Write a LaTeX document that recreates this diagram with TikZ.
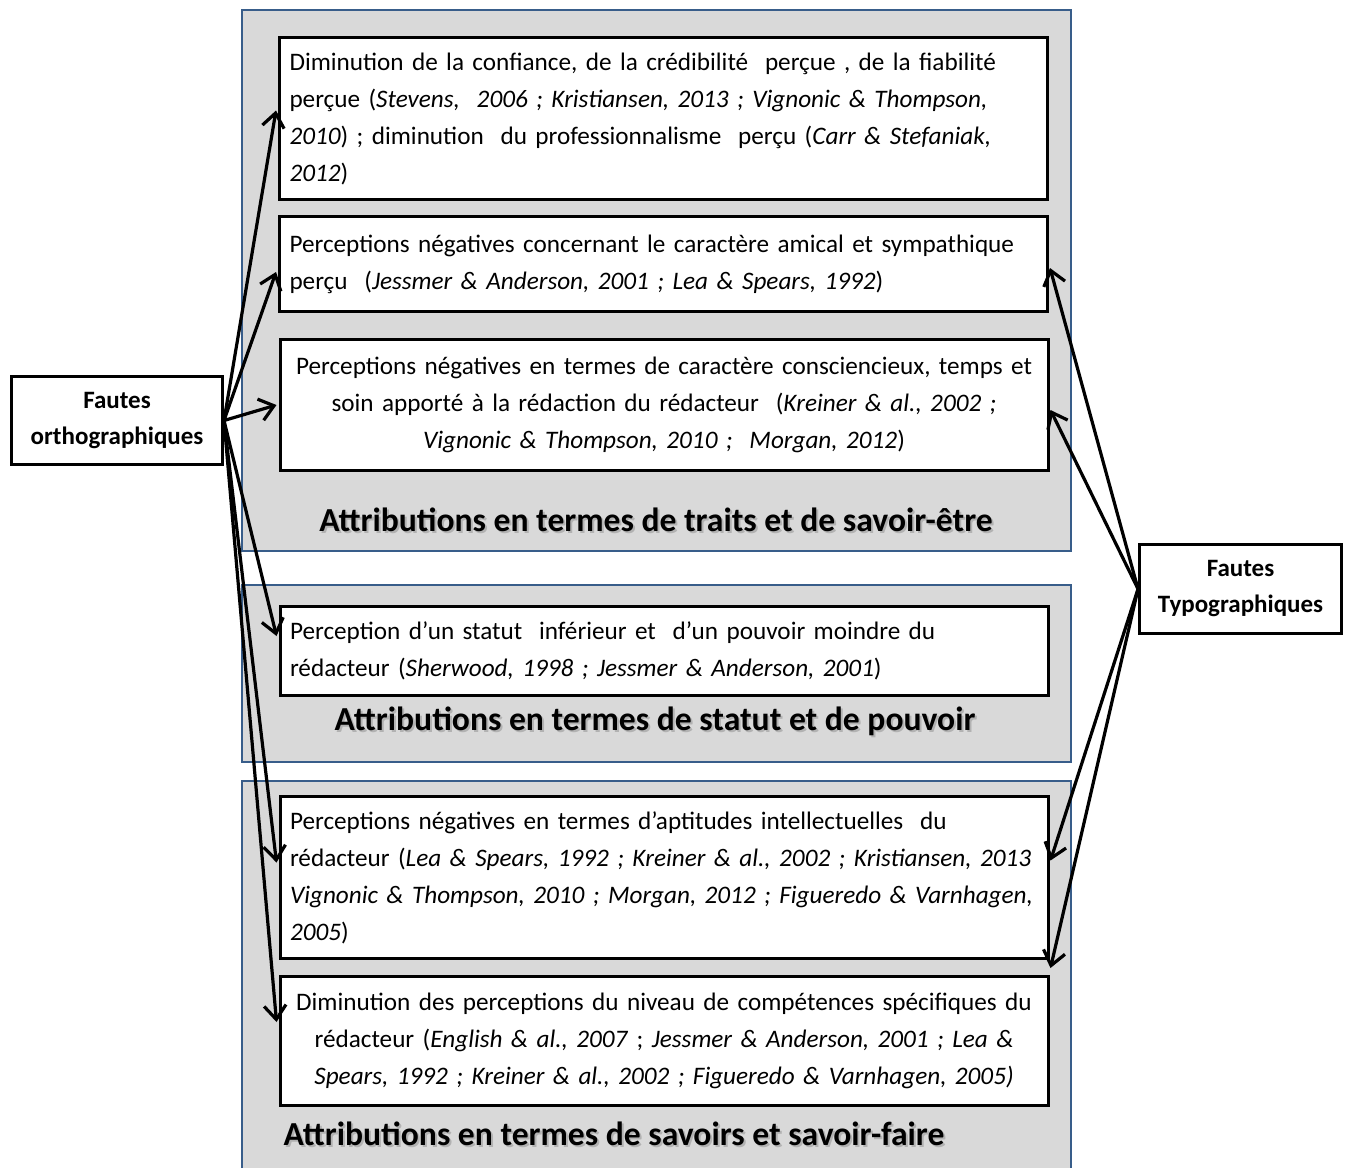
\documentclass[tikz,border=0pt]{standalone}
\usepackage{fontspec}
\setmainfont{Carlito}
\usetikzlibrary{calc,arrows.meta}
\definecolor{cadre}{HTML}{385D8A}
\definecolor{fond}{HTML}{D9D9D9}
\newcommand\ombre[1]{\makebox[0pt][l]{\hspace{1pt}\raisebox{-1pt}{\textcolor{black!30}{#1}}}#1}

\begin{document}
\begin{tikzpicture}
      [   x=0.5pt,y=-0.5pt,
          panel/.style={draw=cadre,fill=fond,line width=1pt},
          tnode/.style={draw=black,fill=white,line width=1.5pt,minimum width=384pt,
                        text width=374pt,inner xsep=5pt,inner ysep=2pt,
                        font=\fontsize{12.6}{18.5}\selectfont,align=#1},
          fnode/.style={draw=black,fill=white,line width=1.5pt,align=center,
                        font=\bfseries\fontsize{12.5}{18}\selectfont},
          titre/.style={font=\bfseries\fontsize{16.8}{20}\selectfont,inner sep=0pt},
          fleche/.style={line width=1.6pt,-{Straight Barb[length=7pt,width=11pt,line width=1.6pt]}},
      ]
          \clip (0,0) rectangle (1349,1167);
          \fill[white] (0,0) rectangle (1349,1167);
          \draw[panel] (242,10) rectangle (1071,551);
          \draw[panel] (242,585) rectangle (1071,762);
          \draw[panel] (242,781) rectangle (1071,1180);

          \node[tnode=left,minimum height=81pt] (boxA) at (663.5,118.5)
              {Diminution de la confiance, de la crédibilité\ \ perçue , de la fiabilité\\
               perçue (\textit{Stevens,\ \ 2006 ; Kristiansen, 2013 ; Vignonic \& Thompson,}\\
               \textit{2010}) ; diminution\ \ du professionnalisme\ \ perçu (\textit{Carr \& Stefaniak,}\\
               \textit{2012})};
          \node[tnode=left,minimum height=47.5pt] (boxB) at (663.5,264)
              {Perceptions négatives concernant le caractère amical et sympathique\\
               perçu\ \ (\textit{Jessmer \& Anderson, 2001 ; Lea \& Spears, 1992})};
          \node[tnode=center,minimum height=65.5pt] (boxC) at (664,405)
              {Perceptions négatives en termes de caractère consciencieux, temps et\\
               soin apporté à la rédaction du rédacteur\ \ (\textit{Kreiner \& al., 2002 ;}\\
               \textit{Vignonic \& Thompson, 2010 ;\ \ Morgan, 2012})};
          \node[titre] (t1) at (656,521) {\ombre{Attributions en termes de traits et de savoir-être}};

          \node[tnode=left,minimum height=44.5pt] (boxD) at (664,651)
              {Perception d’un statut\ \ inférieur\ et\ \ d’un pouvoir moindre du\\
               rédacteur (\textit{Sherwood, 1998 ; Jessmer \& Anderson, 2001})};
          \node[titre] (t2) at (655,722) {\ombre{Attributions en termes de statut et de pouvoir}};

          \node[tnode=left,minimum height=81pt] (boxE) at (664,877.5)
              {Perceptions négatives en termes d’aptitudes intellectuelles\ \ du\\
               rédacteur (\textit{Lea \& Spears, 1992 ; Kreiner \& al., 2002 ; Kristiansen, 2013}\\
               \textit{Vignonic \& Thompson, 2010 ; Morgan, 2012 ; Figueredo \& Varnhagen,}\\
               \textit{2005})};
          \node[tnode=center,minimum height=64.5pt] (boxF) at (664,1041)
              {Diminution des perceptions du niveau de compétences spécifiques du\\
               rédacteur (\textit{English \& al., 2007} ; \textit{Jessmer \& Anderson, 2001 ; Lea \&}\\
               \textit{Spears, 1992 ; Kreiner \& al., 2002 ; Figueredo \& Varnhagen, 2005)}};
          \node[titre] (t3) at (614,1135) {\ombre{Attributions en termes de savoirs et savoir-faire}};

          \node[fnode,minimum width=105.5pt,minimum height=44pt] (ortho) at (117,420.5)
              {Fautes\\orthographiques};
          \node[fnode,minimum width=101pt,minimum height=44.5pt] (typo) at (1240.5,589)
              {Fautes\\Typographiques};

          \foreach \cible/\dy in {boxA/-8,boxB/8,boxC/0,boxD/-15,boxE/-15,boxF/-19}
          {   \draw[fleche] (ortho.east) -- ($(\cible.west)+(-2,\dy)$);
          }
          \foreach \cible/\dy in {boxB/4,boxC/5,boxE/-17}
          {   \draw[fleche] (typo.west) -- ($(\cible.east)+(1,\dy)$);
          }
          \draw[fleche] (typo.west) -- ($(boxF.north east)+(1,-7)$);
    \end{tikzpicture}
\end{document}
